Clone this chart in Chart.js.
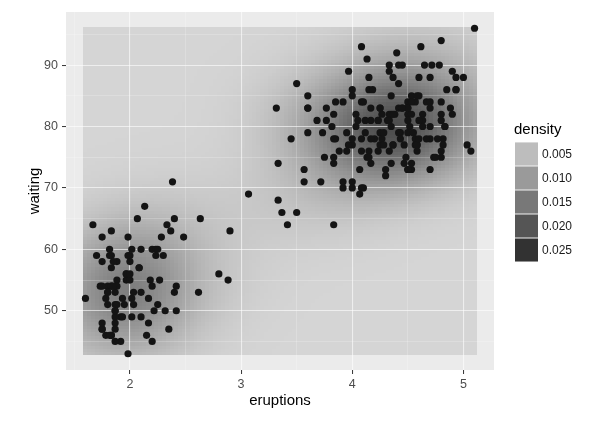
<!DOCTYPE html>
<html>
<head>
<meta charset="utf-8">
<script src="https://cdn.jsdelivr.net/npm/chart.js@4.4.1/dist/chart.umd.min.js"></script>
<style>
  body { margin: 0; background: #fff; }
  canvas { display: block; }
</style>
</head>
<body>
<canvas id="faithfulChart" width="615" height="427"></canvas>
<script>
// Old Faithful eruptions (min) and waiting time (min), 272 observations
const eruptions = [
  3.600, 1.800, 3.333, 2.283, 4.533, 2.883, 4.700, 3.600, 1.950, 4.350, 1.833, 3.917, 4.200, 1.750, 4.700, 2.167,
  1.750, 4.800, 1.600, 4.250, 1.800, 1.750, 3.450, 3.067, 4.533, 3.600, 1.967, 4.083, 3.850, 4.433, 4.300, 4.467,
  3.367, 4.033, 3.833, 2.017, 1.867, 4.833, 1.833, 4.783, 4.350, 1.883, 4.567, 1.750, 4.533, 3.317, 3.833, 2.100,
  4.633, 2.000, 4.800, 4.716, 1.833, 4.833, 1.733, 4.883, 3.717, 1.667, 4.567, 4.317, 2.233, 4.500, 1.750, 4.800,
  1.817, 4.400, 4.167, 4.700, 2.067, 4.700, 4.033, 1.967, 4.500, 4.000, 1.983, 5.067, 2.017, 4.567, 3.883, 3.600,
  4.133, 4.333, 4.100, 2.633, 4.067, 4.933, 3.950, 4.517, 2.167, 4.000, 2.200, 4.333, 1.867, 4.817, 1.833, 4.300,
  4.667, 3.750, 1.867, 4.900, 2.483, 4.367, 2.100, 4.500, 4.050, 1.867, 4.700, 1.783, 4.850, 3.683, 4.733, 2.300,
  4.900, 4.417, 1.700, 4.633, 2.317, 4.600, 1.817, 4.417, 2.617, 4.067, 4.250, 1.967, 4.600, 3.767, 1.917, 4.500,
  2.267, 4.650, 1.867, 4.167, 2.800, 4.333, 1.833, 4.383, 1.883, 4.933, 2.033, 3.733, 4.233, 2.233, 4.533, 4.817,
  4.333, 1.983, 4.633, 2.017, 5.100, 1.800, 5.033, 4.000, 2.400, 4.600, 3.567, 4.000, 4.500, 4.083, 1.800, 3.967,
  2.200, 4.150, 2.000, 3.833, 3.500, 4.583, 2.367, 5.000, 1.933, 4.617, 1.917, 2.083, 4.583, 3.333, 4.167, 4.333,
  4.500, 2.417, 4.000, 4.167, 1.883, 4.583, 4.250, 3.767, 2.033, 4.433, 4.083, 1.833, 4.417, 2.183, 4.800, 1.833,
  4.800, 4.100, 3.966, 4.233, 3.500, 4.366, 2.250, 4.667, 2.100, 4.350, 4.133, 1.867, 4.600, 1.783, 4.367, 3.850,
  1.933, 4.500, 2.383, 4.700, 1.867, 3.833, 3.417, 4.233, 2.400, 4.800, 2.000, 4.150, 1.867, 4.267, 1.750, 4.483,
  4.000, 4.117, 4.083, 4.267, 3.917, 4.550, 4.083, 2.417, 4.183, 2.217, 4.450, 1.883, 1.850, 4.283, 3.950, 2.333,
  4.150, 2.350, 4.933, 2.900, 4.583, 3.833, 2.083, 4.367, 2.133, 4.350, 2.200, 4.450, 3.567, 4.500, 4.150, 3.817,
  3.917, 4.450, 2.000, 4.283, 4.767, 4.533, 1.850, 4.250, 1.983, 2.250, 4.750, 4.117, 2.150, 4.417, 1.817, 4.467
];
const waiting = [
  79, 54, 74, 62, 85, 55, 88, 85, 51, 85, 54, 84, 78, 47, 83, 52,
  62, 84, 52, 79, 51, 47, 78, 69, 74, 83, 55, 76, 78, 79, 73, 77,
  66, 80, 74, 52, 48, 80, 59, 90, 80, 58, 84, 58, 73, 83, 64, 53,
  82, 59, 75, 90, 54, 80, 54, 83, 71, 64, 77, 81, 59, 84, 48, 82,
  60, 92, 78, 78, 65, 73, 82, 56, 79, 71, 62, 76, 60, 78, 76, 83,
  75, 82, 70, 65, 73, 88, 76, 80, 48, 86, 60, 90, 50, 78, 63, 72,
  84, 75, 51, 82, 62, 88, 49, 83, 81, 47, 84, 52, 86, 81, 75, 59,
  89, 79, 59, 81, 50, 85, 59, 87, 53, 69, 77, 56, 88, 81, 45, 82,
  55, 90, 45, 83, 56, 89, 46, 82, 51, 86, 53, 79, 81, 60, 82, 77,
  76, 59, 80, 49, 96, 53, 77, 77, 65, 81, 71, 70, 81, 93, 53, 89,
  45, 86, 58, 78, 66, 76, 63, 88, 52, 93, 49, 57, 77, 68, 81, 81,
  73, 50, 85, 74, 55, 77, 83, 83, 51, 78, 84, 46, 83, 55, 81, 57,
  76, 84, 77, 81, 87, 77, 51, 78, 60, 82, 91, 53, 78, 46, 77, 84,
  49, 83, 71, 80, 49, 75, 64, 76, 53, 94, 55, 76, 50, 82, 54, 75,
  78, 79, 78, 78, 70, 79, 70, 54, 86, 50, 90, 54, 54, 77, 79, 64,
  75, 47, 86, 63, 85, 82, 57, 82, 67, 74, 54, 83, 73, 73, 88, 80,
  71, 83, 56, 79, 78, 84, 58, 83, 43, 60, 75, 81, 46, 90, 46, 74
];

const legendBreaks = [0.005, 0.010, 0.015, 0.020, 0.025];
const legendLabels = ['0.005', '0.010', '0.015', '0.020', '0.025'];

const FONT = '"Liberation Sans", Arial, sans-serif';
const PANEL_BG = '#EBEBEB';
const GRID_N = 100;

// --- 2d kernel density like MASS::kde2d with bandwidth.nrd ---
function quantile7(arr, p) {
    const s = arr.slice().sort((a, b) => a - b);
    const h = (s.length - 1) * p;
    const lo = Math.floor(h);
    return s[lo] + (h - lo) * ((s[lo + 1] ?? s[lo]) - s[lo]);
}
function bandwidthNrd(arr) {
    const n = arr.length;
    const mean = arr.reduce((a, b) => a + b, 0) / n;
    const sd = Math.sqrt(arr.reduce((a, b) => a + (b - mean) ** 2, 0) / (n - 1));
    const iqr = (quantile7(arr, 0.75) - quantile7(arr, 0.25)) / 1.34;
    return 4 * 1.06 * Math.min(sd, iqr) * Math.pow(n, -0.2);
}
function kde2d(xs, ys, n) {
    const hx = bandwidthNrd(xs) / 4, hy = bandwidthNrd(ys) / 4;
    const xmin = Math.min(...xs), xmax = Math.max(...xs);
    const ymin = Math.min(...ys), ymax = Math.max(...ys);
    const gx = [], gy = [];
    for (let i = 0; i < n; i++) {
        gx.push(xmin + (xmax - xmin) * i / (n - 1));
        gy.push(ymin + (ymax - ymin) * i / (n - 1));
    }
    const phi = u => Math.exp(-0.5 * u * u) / Math.sqrt(2 * Math.PI);
    const ax = gx.map(g => xs.map(x => phi((g - x) / hx)));
    const ay = gy.map(g => ys.map(y => phi((g - y) / hy)));
    const z = [];
    let zmax = 0;
    for (let i = 0; i < n; i++) {
        z.push([]);
        for (let j = 0; j < n; j++) {
            let s = 0;
            for (let k = 0; k < xs.length; k++) s += ax[i][k] * ay[j][k];
            const d = s / (xs.length * hx * hy);
            z[i].push(d);
            if (d > zmax) zmax = d;
        }
    }
    return { gx, gy, z, zmax, dx: (xmax - xmin) / (n - 1), dy: (ymax - ymin) / (n - 1) };
}
const dens = kde2d(eruptions, waiting, GRID_N);

function grey(v) {
    const c = Math.max(0, Math.min(255, Math.round(v)));
    return `rgb(${c},${c},${c})`;
}
// legend keys (opaque) and raster (seen through)
const legendFill = d => grey(224 - 6960 * d);
const rasterFill = d => grey(213 - 5400 * d);

const isWhole = (v, step) => Math.abs(v / step - Math.round(v / step)) < 1e-6;

const rasterPlugin = {
    id: 'densityRaster',
    beforeDraw(chart) {
        const { ctx, chartArea: a, scales: { x, y } } = chart;
        ctx.save();
        ctx.fillStyle = PANEL_BG;
        ctx.fillRect(a.left, a.top, a.right - a.left, a.bottom - a.top);
        for (let i = 0; i < GRID_N; i++) {
            const x0 = Math.round(x.getPixelForValue(dens.gx[i] - dens.dx / 2));
            const x1 = Math.round(x.getPixelForValue(dens.gx[i] + dens.dx / 2));
            for (let j = 0; j < GRID_N; j++) {
                const y0 = Math.round(y.getPixelForValue(dens.gy[j] + dens.dy / 2));
                const y1 = Math.round(y.getPixelForValue(dens.gy[j] - dens.dy / 2));
                ctx.fillStyle = rasterFill(dens.z[i][j]);
                ctx.fillRect(x0, y0, x1 - x0, y1 - y0);
            }
        }
        ctx.restore();
    }
};

const legendPlugin = {
    id: 'densityLegend',
    afterDraw(chart) {
        const ctx = chart.ctx;
        const left = 515, top = 142, keyW = 23, keyH = 24;
        ctx.save();
        ctx.fillStyle = '#000';
        ctx.font = '15px ' + FONT;
        ctx.textBaseline = 'middle';
        ctx.textAlign = 'left';
        ctx.fillText('density', left - 1, 130);
        legendBreaks.forEach((b, i) => {
            const ky = top + i * keyH;
            ctx.fillStyle = '#F2F2F2';
            ctx.fillRect(left, ky, keyW, keyH);
            ctx.fillStyle = legendFill(b);
            ctx.fillRect(left, ky + 0.5, keyW, keyH - 1);
            ctx.fillStyle = '#1A1A1A';
            ctx.font = '12px ' + FONT;
            ctx.fillText(legendLabels[i], left + keyW + 4, ky + keyH / 2 + 1);
        });
        ctx.restore();
    }
};

const gridColor = step => ctx => isWhole(ctx.tick.value, step) ? 'rgba(255,255,255,0.6)' : 'rgba(255,255,255,0.35)';
const gridWidth = step => ctx => isWhole(ctx.tick.value, step) ? 1.1 : 0.6;
const tickColor = step => ctx => isWhole(ctx.tick.value, step) ? '#333333' : 'rgba(0,0,0,0)';

new Chart(document.getElementById('faithfulChart').getContext('2d'), {
    type: 'scatter',
    data: {
        datasets: [{
            label: 'faithful',
            data: eruptions.map((e, i) => ({ x: e, y: waiting[i] })),
            backgroundColor: '#141414',
            borderWidth: 0,
            pointRadius: 3.6,
            pointHoverRadius: 3.6
        }]
    },
    options: {
        responsive: false,
        animation: false,
        layout: { padding: { top: 12, right: 121, left: 0, bottom: 0 } },
        scales: {
            x: {
                type: 'linear',
                min: 1.425,
                max: 5.275,
                afterFit: scale => { scale.height = 57; },
                border: { display: false },
                grid: { color: gridColor(1), lineWidth: gridWidth(1), tickColor: tickColor(1), tickLength: 4, tickWidth: 1 },
                ticks: {
                    stepSize: 0.5,
                    maxTicksLimit: 20,
                    includeBounds: false,
                    autoSkip: false,
                    maxRotation: 0,
                    padding: 3,
                    color: '#4D4D4D',
                    font: { family: FONT, size: 12.5 },
                    callback: v => isWhole(v, 1) ? String(Math.round(v)) : ''
                },
                title: { display: true, text: 'eruptions', color: '#000', font: { family: FONT, size: 15 }, padding: { top: 0, bottom: 17 } }
            },
            y: {
                type: 'linear',
                min: 40.35,
                max: 98.65,
                afterFit: scale => { scale.width = 66; },
                border: { display: false },
                grid: { color: gridColor(10), lineWidth: gridWidth(10), tickColor: tickColor(10), tickLength: 4, tickWidth: 1 },
                ticks: {
                    stepSize: 5,
                    maxTicksLimit: 20,
                    includeBounds: false,
                    autoSkip: false,
                    padding: 4,
                    color: '#4D4D4D',
                    font: { family: FONT, size: 12.5 },
                    callback: v => isWhole(v, 10) ? String(Math.round(v)) : ''
                },
                title: { display: true, text: 'waiting', color: '#000', font: { family: FONT, size: 15 }, padding: { top: 26, bottom: 0 } }
            }
        },
        plugins: {
            legend: { display: false },
            tooltip: { enabled: false }
        }
    },
    plugins: [rasterPlugin, legendPlugin]
});
</script>
</body>
</html>
